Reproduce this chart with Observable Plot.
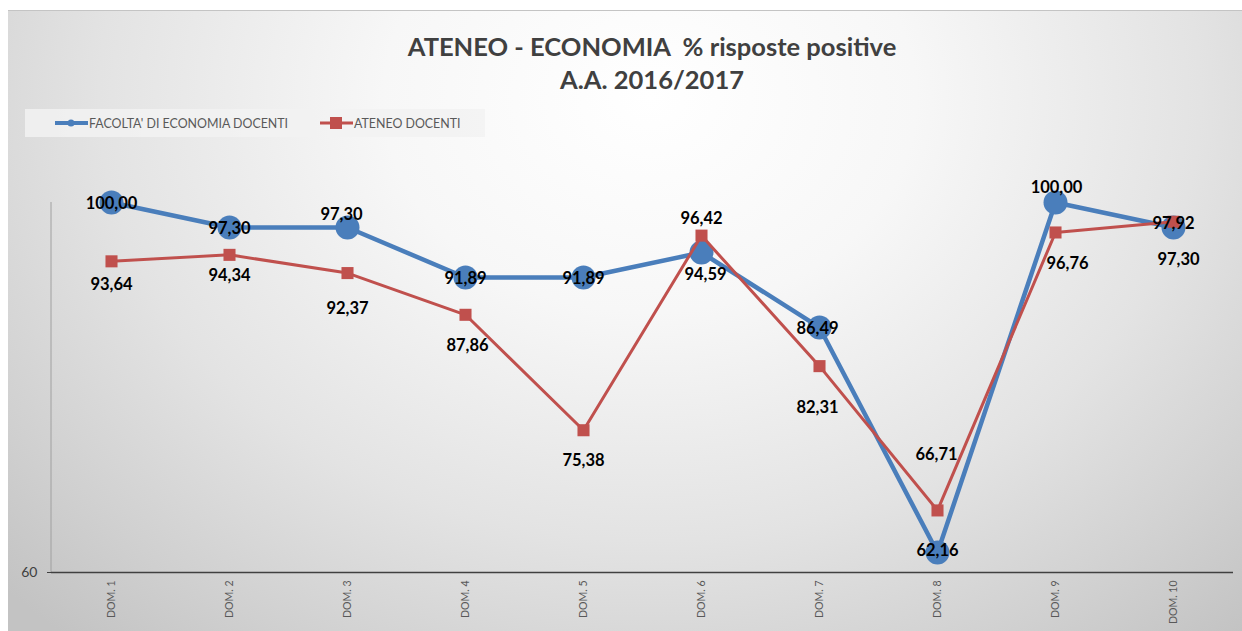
<!DOCTYPE html>
<html>
<head>
<meta charset="utf-8">
<script src="https://cdn.jsdelivr.net/npm/d3@7"></script>
<script src="https://cdn.jsdelivr.net/npm/@observablehq/plot@0.6"></script>
<style>
  html, body { margin: 0; padding: 0; background: #ffffff; }
  body { width: 1242px; height: 631px; overflow: hidden; position: relative; font-family: Lato, "Open Sans", sans-serif; }
  #frame {
    position: absolute; left: 8px; top: 10px; width: 1234px; height: 621px;
    border-top: 1px solid #c4c4c4;
    background: radial-gradient(ellipse 72% 115% at 52% 14%, #ffffff 0%, #f7f7f7 30%, #e3e3e3 62%, #d0d0d0 85%, #c3c3c3 100%);
  }
  #title {
    position: absolute; left: 27px; width: 1234px; top: 19px; text-align: center;
    font-family: Lato, sans-serif; font-weight: 700; font-size: 25.5px; line-height: 33px;
    color: #404040; white-space: pre;
  }
  #legend {
    position: absolute; left: 17px; top: 98px; width: 460px; height: 28px;
    background: rgba(242,242,242,0.85);
    font-family: Lato, sans-serif; font-size: 12.4px; color: #595959;
  }
  .item { position: absolute; top: 0; height: 28px; display: flex; align-items: center; white-space: pre; }
  .item svg { display: block; }
  #chart { position: absolute; left: 0; top: 150px; }
  #chart svg { background: transparent; overflow: visible; }
  #chart g[aria-label="y-axis tick label"] text { font-size: 14px; }
  #chart g[aria-label="x-axis tick label"] text { font-size: 10.5px; }
</style>
</head>
<body>
<div id="frame">
  <div id="title"></div>
  <div id="legend"></div>
  <div id="chart"></div>
</div>
<script>
// ---- data ----
const titleLines = ["ATENEO - ECONOMIA  % risposte positive", "A.A. 2016/2017"];
const categories = ["DOM. 1", "DOM. 2", "DOM. 3", "DOM. 4", "DOM. 5", "DOM. 6", "DOM. 7", "DOM. 8", "DOM. 9", "DOM. 10"];
const seriesNames = ["FACOLTA' DI ECONOMIA DOCENTI", "ATENEO DOCENTI"];
const facolta = [100.00, 97.30, 97.30, 91.89, 91.89, 94.59, 86.49, 62.16, 100.00, 97.30];
const ateneo = [93.64, 94.34, 92.37, 87.86, 75.38, 96.42, 82.31, 66.71, 96.76, 97.92];
const yTicks = [60];
const yDomain = [60, 100];

// ---- label placement (pixels, style only) ----
const facoltaLabelDx = [0, 0, -6, 0, 0, 4, -2, 0, 1, 5];
const facoltaLabelDy = [1, 1, -13, 1, 1, 22, 1, -2, -15, 32];
const ateneoLabelDx = [0, 0, 0, 2, 0, 0, -2, -1, 12, 0];
const ateneoLabelDy = [23, 21, 36, 31, 30, -17, 42, -56, 31, 2];

const BLUE = "#4a7ebb";
const RED = "#c0504d";
const fmt = v => v.toFixed(2).replace(".", ",");

// ---- title ----
document.getElementById("title").textContent = titleLines.join("\n");

// ---- legend ----
const legend = document.getElementById("legend");
const legendDefs = [
  {name: seriesNames[0], color: BLUE, shape: "circle", left: 30, sw: 4},
  {name: seriesNames[1], color: RED, shape: "square", left: 295, sw: 3}
];
legendDefs.forEach(d => {
  const item = document.createElement("div");
  item.className = "item";
  item.style.left = d.left + "px";
  const marker = d.shape === "circle"
    ? `<circle cx="16" cy="7" r="3.5" fill="${d.color}"/>`
    : `<rect x="10" y="1" width="12" height="12" fill="${d.color}"/>`;
  item.innerHTML = `<svg width="33" height="14"><line x1="0" x2="33" y1="7" y2="7" stroke="${d.color}" stroke-width="${d.sw}"/>${marker}</svg><span style="margin-left:1px">${d.name}</span>`;
  legend.appendChild(item);
});

// ---- chart ----
const rows = categories.map((c, i) => ({cat: c, facolta: facolta[i], ateneo: ateneo[i]}));

const yAxisLine = (index, scales, values, dimensions) => {
  const {marginLeft, marginTop, height, marginBottom} = dimensions;
  return d3.create("svg:line")
    .attr("x1", marginLeft).attr("x2", marginLeft)
    .attr("y1", marginTop).attr("y2", height - marginBottom)
    .attr("stroke", "#a0a0a0").attr("stroke-width", 1)
    .node();
};

const labelMarks = [];
rows.forEach((r, i) => {
  labelMarks.push(Plot.text([r], {
    x: "cat", y: "facolta", text: d => fmt(d.facolta),
    dx: facoltaLabelDx[i], dy: facoltaLabelDy[i],
    fontSize: 16.5, fontWeight: "bold", fill: "#000", fontFamily: "Lato, sans-serif"
  }));
  labelMarks.push(Plot.text([r], {
    x: "cat", y: "ateneo", text: d => fmt(d.ateneo),
    dx: ateneoLabelDx[i], dy: ateneoLabelDy[i],
    fontSize: 16.5, fontWeight: "bold", fill: "#000", fontFamily: "Lato, sans-serif"
  }));
});

const plot = Plot.plot({
  width: 1234,
  height: 471,
  marginLeft: 43,
  marginRight: 9,
  marginTop: 41,
  marginBottom: 60,
  style: {background: "transparent", fontFamily: "Lato, sans-serif"},
  x: {type: "point", domain: categories, padding: 0.5},
  y: {domain: yDomain},
  marks: [
    yAxisLine,
    Plot.axisY({ticks: yTicks, tickSize: 4, tickPadding: 10, fontSize: 14, color: "#404040", label: null, tickFormat: d => String(d)}),
    Plot.axisX({tickRotate: -90, tickSize: 0, tickPadding: 8, fontSize: 10.5, color: "#595959", label: null}),
    Plot.ruleY(yTicks, {stroke: "#404040", strokeWidth: 1.6}),
    Plot.line(rows, {x: "cat", y: "facolta", stroke: BLUE, strokeWidth: 4.5}),
    Plot.dot(rows, {x: "cat", y: "facolta", r: 12, fill: BLUE, stroke: "none"}),
    Plot.line(rows, {x: "cat", y: "ateneo", stroke: RED, strokeWidth: 3}),
    Plot.dot(rows, {x: "cat", y: "ateneo", symbol: "square", r: 6.8, fill: RED, stroke: "none"}),
    ...labelMarks
  ]
});
document.getElementById("chart").appendChild(plot);
</script>
</body>
</html>
